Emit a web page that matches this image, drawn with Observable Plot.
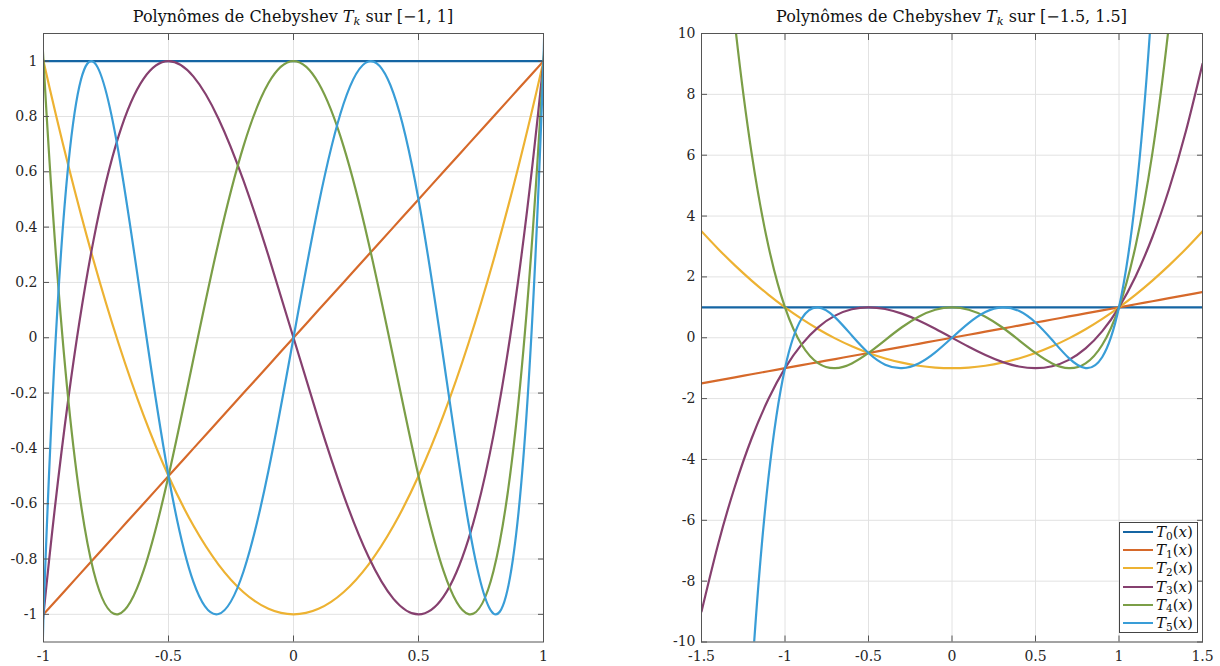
<!DOCTYPE html>
<html><head><meta charset="utf-8">
<script src="https://cdn.jsdelivr.net/npm/d3@7"></script>
<script src="https://cdn.jsdelivr.net/npm/@observablehq/plot@0.6"></script>
<style>
html,body{margin:0;padding:0;background:#fff;}
#fig{position:relative;width:1220px;height:666px;overflow:hidden;font-family:"DejaVu Serif",serif;}
.panel{position:absolute;top:0;}
.title{position:absolute;top:8px;font-size:16px;line-height:17px;color:#111;white-space:nowrap;transform:translateX(-50%);}
.sub{font-size:0.72em;position:relative;top:0.3em;}
#legend{position:absolute;left:1119px;top:522px;width:79px;height:111px;border:1px solid #444;background:#fff;box-sizing:border-box;padding-top:0px;}
.lrow{height:18.2px;display:flex;align-items:center;font-size:15px;color:#111;}
.lsw{width:30px;height:2px;margin-left:3px;margin-right:3px;}
</style></head>
<body><div id="fig"></div>
<script>
// sample abscissae
const xs = [-1.5,-1.4,-1.3,-1.2,-1.1,-1,-0.9,-0.8,-0.7,-0.6,-0.5,-0.4,-0.3,-0.2,-0.1,0,0.1,0.2,0.3,0.4,0.5,0.6,0.7,0.8,0.9,1,1.1,1.2,1.3,1.4,1.5];
// Chebyshev polynomial values at xs
const T0 = [1,1,1,1,1,1,1,1,1,1,1,1,1,1,1,1,1,1,1,1,1,1,1,1,1,1,1,1,1,1,1];
const T1 = [-1.5,-1.4,-1.3,-1.2,-1.1,-1,-0.9,-0.8,-0.7,-0.6,-0.5,-0.4,-0.3,-0.2,-0.1,0,0.1,0.2,0.3,0.4,0.5,0.6,0.7,0.8,0.9,1,1.1,1.2,1.3,1.4,1.5];
const T2 = [3.5,2.92,2.38,1.88,1.42,1,0.62,0.28,-0.02,-0.28,-0.5,-0.68,-0.82,-0.92,-0.98,-1,-0.98,-0.92,-0.82,-0.68,-0.5,-0.28,-0.02,0.28,0.62,1,1.42,1.88,2.38,2.92,3.5];
const T3 = [-9,-6.776,-4.888,-3.312,-2.024,-1,-0.216,0.352,0.728,0.936,1,0.944,0.792,0.568,0.296,0,-0.296,-0.568,-0.792,-0.944,-1,-0.936,-0.728,-0.352,0.216,1,2.024,3.312,4.888,6.776,9];
const T4 = [23.5,16.0528,10.3288,6.0688,3.0328,1,-0.2312,-0.8432,-0.9992,-0.8432,-0.5,-0.0752,0.3448,0.6928,0.9208,1,0.9208,0.6928,0.3448,-0.0752,-0.5,-0.8432,-0.9992,-0.8432,-0.2312,1,3.0328,6.0688,10.3288,16.0528,23.5];
const T5 = [-61.5,-38.17184,-21.96688,-11.25312,-4.64816,-1,0.63216,0.99712,0.67088,0.07584,-0.5,-0.88384,-0.99888,-0.84512,-0.48016,0,0.48016,0.84512,0.99888,0.88384,0.5,-0.07584,-0.67088,-0.99712,-0.63216,1,4.64816,11.25312,21.96688,38.17184,61.5];
const seriesNames = ["0","1","2","3","4","5"];
const seriesColors = ["#1565a3","#d6692a","#edb232","#86406f","#7b9e47","#399dd7"];
const leftXTicks = [-1,-0.5,0,0.5,1];
const leftYTicks = [-1,-0.8,-0.6,-0.4,-0.2,0,0.2,0.4,0.6,0.8,1];
const rightXTicks = [-1.5,-1,-0.5,0,0.5,1,1.5];
const rightYTicks = [-10,-8,-6,-4,-2,0,2,4,6,8,10];
const titleLeft = ["Polynômes de Chebyshev ", "T", "k", " sur [−1, 1]"];
const titleRight = ["Polynômes de Chebyshev ", "T", "k", " sur [−1.5, 1.5]"];

const series = [T0,T1,T2,T3,T4,T5];
const fig = document.getElementById("fig");
const FONT = "'DejaVu Serif', serif";
const fmt = d => String(d);

function panel({left, width, mLeft, mRight, xDom, yDom, xt, yt}) {
  const marks = [
    Plot.gridX(xt, {stroke: "#e2e2e2", strokeOpacity: 1}),
    Plot.gridY(yt, {stroke: "#e2e2e2", strokeOpacity: 1}),
  ];
  series.forEach((vals, k) => {
    marks.push(Plot.line(xs.map((x, i) => ({x, y: vals[i]})), {
      x: "x", y: "y", stroke: seriesColors[k], strokeWidth: 2.2, curve: "natural", clip: true
    }));
  });
  marks.push(
    Plot.axisX(xt, {anchor: "bottom", tickSize: -6, tickPadding: 15, tickFormat: fmt, stroke: "#555", fill: "#262626", fontSize: 14, label: null}),
    Plot.axisX(xt, {anchor: "top", tickSize: -6, tickFormat: () => "", stroke: "#555", label: null}),
    Plot.axisY(yt, {anchor: "left", tickSize: -6, tickPadding: 12, tickFormat: fmt, stroke: "#555", fill: "#262626", fontSize: 14, label: null}),
    Plot.axisY(yt, {anchor: "right", tickSize: -6, tickFormat: () => "", stroke: "#555", label: null}),
    Plot.frame({stroke: "#555"})
  );
  const svg = Plot.plot({
    width, height: 666,
    marginLeft: mLeft, marginRight: mRight, marginTop: 33, marginBottom: 24.5,
    x: {domain: xDom, label: null},
    y: {domain: yDom, label: null},
    style: {fontFamily: FONT, background: "transparent"},
    marks
  });
  svg.classList.add("panel");
  svg.style.left = left + "px";
  fig.appendChild(svg);
}

panel({left: 0, width: 600, mLeft: 43, mRight: 57, xDom: [-1, 1], yDom: [-1.1, 1.1], xt: leftXTicks, yt: leftYTicks});
panel({left: 600, width: 620, mLeft: 101, mRight: 18, xDom: [-1.5, 1.5], yDom: [-10, 10], xt: rightXTicks, yt: rightYTicks});

function addTitle(parts, cx) {
  const d = document.createElement("div");
  d.className = "title";
  d.style.left = cx + "px";
  d.innerHTML = parts[0] + "<i>" + parts[1] + "</i><span class='sub'><i>" + parts[2] + "</i></span>" + parts[3];
  fig.appendChild(d);
}
addTitle(titleLeft, 293);
addTitle(titleRight, 951.5);

const lg = document.createElement("div");
lg.id = "legend";
seriesNames.forEach((n, k) => {
  const r = document.createElement("div");
  r.className = "lrow";
  r.innerHTML = `<div class="lsw" style="background:${seriesColors[k]}"></div><span><i>T</i><span class="sub" style="font-size:0.7em;top:0.25em">${n}</span>(<i>x</i>)</span>`;
  lg.appendChild(r);
});
fig.appendChild(lg);
</script>
</body></html>
